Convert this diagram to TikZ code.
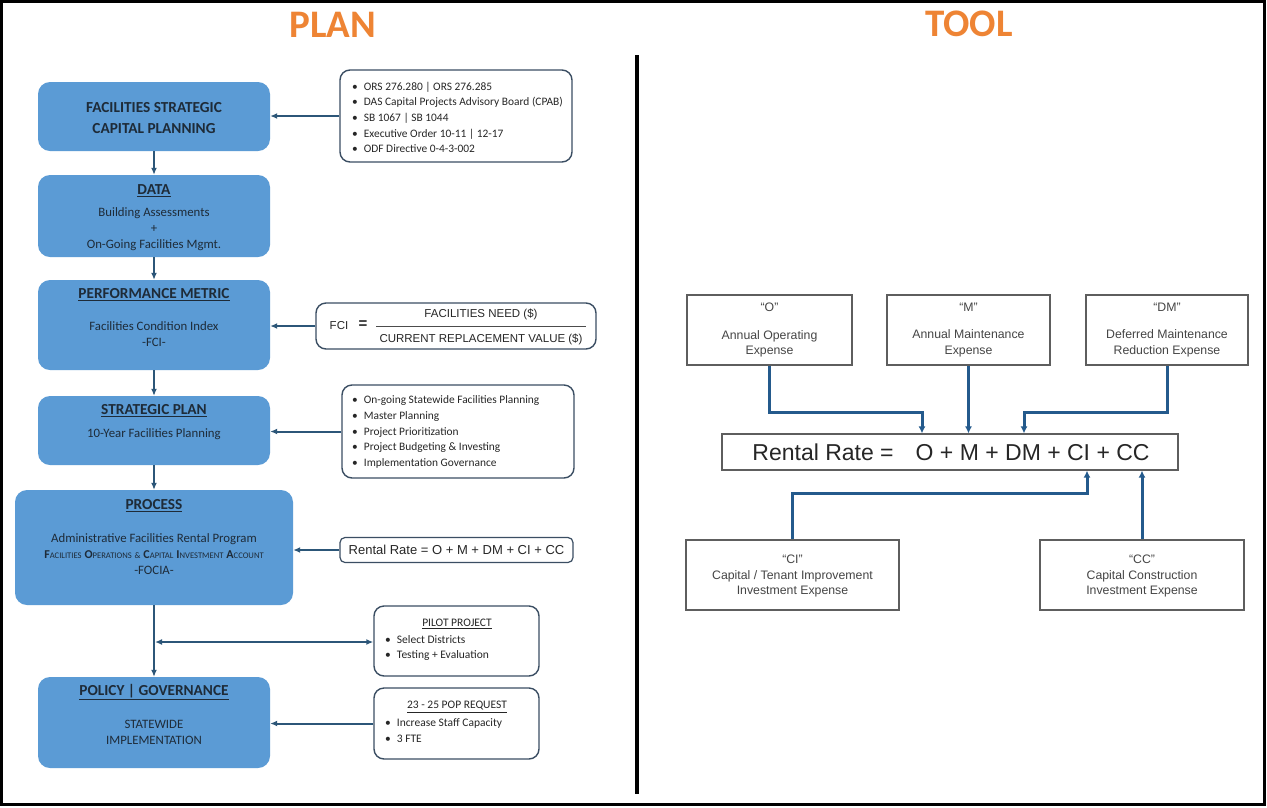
\documentclass[tikz,border=0pt]{standalone}
\usepackage{fontspec}
\setmainfont{Carlito}
\newfontfamily\arialf{Liberation Sans}
\usetikzlibrary{arrows.meta}
\definecolor{boxblue}{HTML}{5B9BD5}
\definecolor{boxtext}{HTML}{1E2B38}
\definecolor{conleft}{HTML}{2C5678}
\definecolor{conright}{HTML}{245A8C}
\definecolor{notebd}{HTML}{3B4E63}
\definecolor{titleor}{HTML}{EE8434}
\definecolor{rtext}{HTML}{454545}
\definecolor{rbd}{HTML}{5E5E5E}
\newcommand\fsc[2]{{\fontsize{12}{16}\selectfont\bfseries #1}{\fontsize{8.6}{16}\selectfont #2}}
\begin{document}
\begin{tikzpicture}[x=1pt,y=-1pt,
  bluebox/.style={fill=boxblue, rounded corners=12pt, inner sep=0pt},
  btitle/.style={text=boxtext, font=\fontsize{15.3}{20.5}\selectfont\bfseries, align=center, inner sep=0pt},
  bbody/.style={text=boxtext, font=\fontsize{12.8}{16}\selectfont, align=center, inner sep=0pt},
  note/.style={draw=notebd, line width=1.4pt, rounded corners=10pt, fill=white, inner sep=0pt},
  ntxt/.style={text=black!85, font=\fontsize{11.4}{15.6}\selectfont, align=left, inner sep=0pt},
  lconn/.style={draw=conleft, line width=2pt, -{Latex[length=7pt,width=6pt]}},
  rbox/.style={draw=rbd, line width=1.2pt, fill=white, inner sep=0pt},
  rtxt/.style={text=rtext, font=\arialf\fontsize{12.3}{15.5}\selectfont, align=center, inner sep=0pt},
  rconn/.style={draw=conright, line width=3pt, -{Latex[length=7pt,width=7pt]}},
  ttl/.style={text=titleor, font=\fontsize{39}{40}\selectfont\bfseries, inner sep=0pt}
]
\useasboundingbox (0,0) rectangle (1267,807);
\fill[white] (0,0) rectangle (1267,807);
% frame and divider
\draw[line width=2.5pt] (1.5,1.5) rectangle (1264.5,804.5);
\draw[line width=4pt] (637,55) -- (637,794);

% titles
\node[ttl] (plan) at (333,25) {PLAN};
\node[ttl] (tool) at (969,24) {TOOL};

% ---------- PLAN: blue boxes ----------
\node[bluebox, minimum width=232pt, minimum height=69pt] (b1) at (154,116.5) {};
\node[bluebox, minimum width=232pt, minimum height=82pt] (b2) at (154,216) {};
\node[bluebox, minimum width=232pt, minimum height=90pt] (b3) at (154,325) {};
\node[bluebox, minimum width=232pt, minimum height=69pt] (b4) at (154,430.5) {};
\node[bluebox, minimum width=278pt, minimum height=115pt] (b5) at (154,547.5) {};
\node[bluebox, minimum width=232pt, minimum height=91pt] (b6) at (154,722.5) {};

\node[btitle] (b1t) at (154,118) {FACILITIES STRATEGIC\\CAPITAL PLANNING};
\node[btitle] (b2t) at (154,191) {\underline{DATA}};
\node[bbody] (b2b) at (154,229) {Building Assessments\\+\\On-Going Facilities Mgmt.};
\node[btitle] (b3t) at (154,295) {\underline{PERFORMANCE METRIC}};
\node[bbody] (b3b) at (154,334) {Facilities Condition Index\\-FCI-};
\node[btitle] (b4t) at (154,411) {\underline{STRATEGIC PLAN}};
\node[bbody] (b4b) at (154,434) {10-Year Facilities Planning};
\node[btitle] (b5t) at (154,506) {\underline{PROCESS}};
\node[bbody] (b5b) at (154,554) {Administrative Facilities Rental Program\\
  \fsc{F}{ACILITIES} \fsc{O}{PERATIONS} {\fontsize{8.6}{16}\selectfont\&} \fsc{C}{APITAL} \fsc{I}{NVESTMENT} \fsc{A}{CCOUNT}\\-FOCIA-};
\node[btitle] (b6t) at (154,692) {\underline{POLICY | GOVERNANCE}};
\node[bbody] (b6b) at (154,732) {STATEWIDE\\IMPLEMENTATION};

% ---------- PLAN: notes ----------
\node[note, minimum width=232pt, minimum height=92pt] (n1) at (456,116) {};
\node[ntxt, anchor=west] (n1t) at (352,117.5) {%
\textbullet\hspace{6pt}ORS 276.280 | ORS 276.285\\
\textbullet\hspace{6pt}DAS Capital Projects Advisory Board (CPAB)\\
\textbullet\hspace{6pt}SB 1067 | SB 1044\\
\textbullet\hspace{6pt}Executive Order 10-11 | 12-17\\
\textbullet\hspace{6pt}ODF Directive 0-4-3-002};

\node[note, minimum width=280pt, minimum height=46pt] (n2) at (456,326) {};
\node[font=\arialf\fontsize{11.5}{14}\selectfont, text=black!85, inner sep=0pt] (fci) at (339,326) {FCI};
\node[font=\arialf\fontsize{15}{16}\selectfont\bfseries, text=black!85, inner sep=0pt] (fcieq) at (363,325) {=};
\node[font=\arialf\fontsize{11.5}{14}\selectfont, text=black!85, inner sep=0pt] (fnum) at (481,314) {FACILITIES NEED (\$)};
\node[font=\arialf\fontsize{11.5}{14}\selectfont, text=black!85, inner sep=0pt] (fden) at (481,339) {CURRENT REPLACEMENT VALUE (\$)};
\draw[line width=0.9pt, black!70] (376,326.5) -- (586,326.5);

\node[note, minimum width=232pt, minimum height=93pt] (n3) at (458,431.5) {};
\node[ntxt, anchor=west] (n3t) at (352,432) {%
\textbullet\hspace{6pt}On-going Statewide Facilities Planning\\
\textbullet\hspace{6pt}Master Planning\\
\textbullet\hspace{6pt}Project Prioritization\\
\textbullet\hspace{6pt}Project Budgeting \& Investing\\
\textbullet\hspace{6pt}Implementation Governance};

\node[note, rounded corners=5pt, line width=1.2pt, minimum width=233pt, minimum height=25pt,
      font=\arialf\fontsize{13}{15}\selectfont, text=black!85] (n4) at (456.5,550) {Rental Rate = O + M + DM + CI + CC};

\node[note, minimum width=165pt, minimum height=70pt] (n5) at (456.5,641) {};
\node[ntxt, font=\fontsize{11.5}{15.5}\selectfont] (n5h) at (457,624) {\underline{PILOT PROJECT}};
\node[ntxt, font=\fontsize{11.5}{15.5}\selectfont, anchor=west] (n5t) at (385,648) {%
\textbullet\hspace{6pt}Select Districts\\
\textbullet\hspace{6pt}Testing + Evaluation};

\node[note, minimum width=165pt, minimum height=71pt] (n6) at (456.5,723.5) {};
\node[ntxt, font=\fontsize{11.5}{15.5}\selectfont] (n6h) at (457,707) {\underline{23 - 25 POP REQUEST}};
\node[ntxt, font=\fontsize{11.5}{15.5}\selectfont, anchor=west] (n6t) at (385,730.5) {%
\textbullet\hspace{6pt}Increase Staff Capacity\\
\textbullet\hspace{6pt}3 FTE};

% ---------- PLAN: connectors ----------
\draw[lconn] (b1.south) -- (b2.north);
\draw[lconn] (b2.south) -- (b3.north);
\draw[lconn] (b3.south) -- (b4.north);
\draw[lconn] (b4.south) -- (b5.north);
\draw[lconn] (b5.south) -- (b6.north);
\draw[lconn] (n1.west) -- (n1.west -| b1.east);
\draw[lconn] (n2.west) -- (n2.west -| b3.east);
\draw[lconn] (n3.west) -- (n3.west -| b4.east);
\draw[lconn] (n4.west) -- (n4.west -| b5.east);
\draw[lconn] (n6.west) -- (n6.west -| b6.east);
\coordinate (pj) at (155,642);
\draw[lconn, {Latex[length=7pt,width=6pt]}-{Latex[length=7pt,width=6pt]}] (pj) -- (pj -| n5.west);

% ---------- TOOL ----------
\node[rbox, minimum width=165pt, minimum height=70pt] (bo) at (769.5,330) {};
\node[rbox, minimum width=163pt, minimum height=70pt] (bm) at (968.5,330) {};
\node[rbox, minimum width=162pt, minimum height=70pt] (bdm) at (1167,330) {};
\node[rtxt] (bot) at (769.5,330) {“O”\\[12pt]Annual Operating\\Expense};
\node[rtxt] (bmt) at (968.5,330) {“M”\\[12pt]Annual Maintenance\\Expense};
\node[rtxt] (bdmt) at (1167,330) {“DM”\\[12pt]Deferred Maintenance\\Reduction Expense};

\node[rbox, minimum width=456pt, minimum height=36pt] (rf) at (950,452) {};
\node[text=black!85, font=\arialf\fontsize{23}{26}\selectfont, inner sep=0pt] (rft) at (951,452) {Rental Rate =\hspace{22pt}O + M + DM + CI + CC};

\node[rbox, minimum width=213pt, minimum height=70pt] (bci) at (792.5,575) {};
\node[rbox, minimum width=204pt, minimum height=70pt] (bcc) at (1142,575) {};
\node[rtxt] (bcit) at (792.5,576) {“CI”\\Capital / Tenant Improvement\\Investment Expense};
\node[rtxt] (bcct) at (1142,576) {“CC”\\Capital Construction\\Investment Expense};

\coordinate (ko) at (922,412);
\coordinate (kdm) at (1024,412);
\coordinate (kci) at (1087,493);
\draw[rconn] (bo.south) |- (ko) -- (ko |- rf.north);
\draw[rconn] (bm.south) -- (bm.south |- rf.north);
\draw[rconn] (bdm.south) |- (kdm) -- (kdm |- rf.north);
\draw[rconn] (bci.north) |- (kci) -- (kci |- rf.south);
\draw[rconn] (bcc.north) -- (bcc.north |- rf.south);
\end{tikzpicture}
\end{document}
